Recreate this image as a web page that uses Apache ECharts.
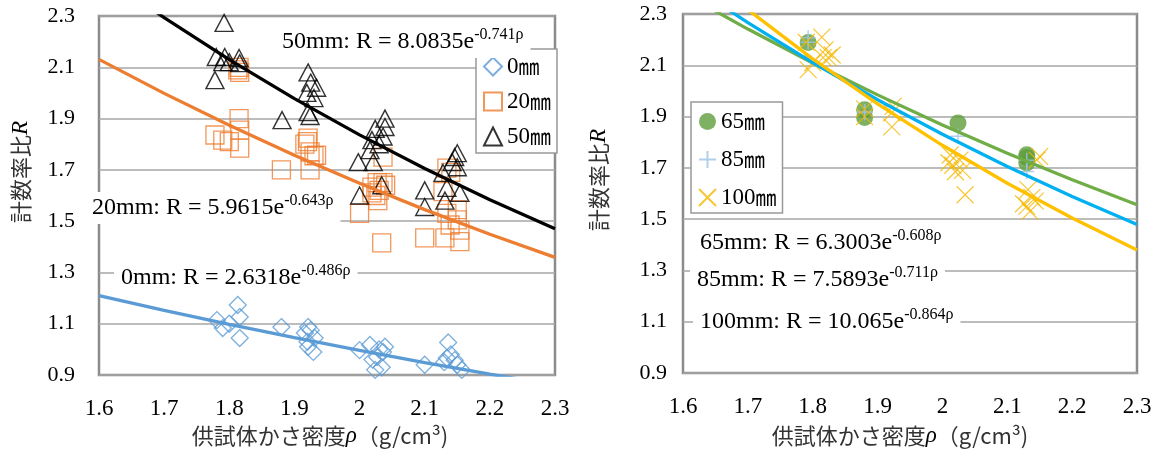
<!DOCTYPE html>
<html><head><meta charset="utf-8">
<script src="https://cdn.jsdelivr.net/npm/echarts@6/dist/echarts.min.js"></script>
<style>html,body{margin:0;padding:0;background:#fff}#c{width:1160px;height:450px}</style>
</head><body><div id="c"></div><script>
// ---- tick labels ----
const xTickLabels = ['1.6','1.7','1.8','1.9','2','2.1','2.2','2.3'];
const yTickLabels = ['0.9','1.1','1.3','1.5','1.7','1.9','2.1','2.3'];
// ---- left chart: measured points [density, ratio] ----
const pts0mm = [[1.781,1.114],[1.79,1.083],[1.813,1.173],[1.816,1.126],[1.816,1.044],[1.80,1.10],
  [1.88,1.087],[1.921,1.087],[1.916,1.064],[1.931,1.044],[1.921,1.01],[1.929,0.99],[1.925,1.075],[1.92,1.03],
  [2.0,0.997],[2.016,1.017],[2.039,1.01],[2.027,0.97],[2.034,0.93],[2.024,0.92],[2.036,0.99],[2.03,1.0],[2.02,0.96],
  [2.10,0.94],[2.136,1.027],[2.134,0.966],[2.146,0.958],[2.157,0.92],[2.15,0.94],[2.13,0.95],[2.14,0.98]];
const pts20mm = [[1.778,1.836],[1.79,1.816],[1.816,1.855],[1.816,1.785],[1.815,1.90],[1.813,2.09],[1.815,2.10],[1.816,2.08],[1.80,1.81],
  [1.88,1.70],[1.921,1.824],[1.916,1.80],[1.924,1.77],[1.934,1.757],[1.924,1.70],[1.93,1.755],[1.92,1.81],
  [2.036,1.75],[2.027,1.65],[2.036,1.65],[2.019,1.633],[2.028,1.58],[2.0,1.53],[2.034,1.415],[2.019,1.61],[2.03,1.62],[2.04,1.64],[2.025,1.60],
  [2.134,1.707],[2.128,1.615],[2.10,1.435],[2.131,1.435],[2.154,1.42],[2.15,1.545],[2.134,1.53],[2.139,1.485],[2.154,1.465],[2.15,1.505],[2.14,1.69]];
const pts50mm = [[1.792,2.273],[1.78,2.14],[1.793,2.14],[1.815,2.136],[1.816,2.116],[1.778,2.05],[1.80,2.12],[1.79,2.12],
  [1.881,1.894],[1.921,2.08],[1.934,2.02],[1.919,2.0],[1.93,1.98],[1.921,1.925],[1.924,1.91],[1.925,2.04],
  [2.024,1.86],[2.039,1.867],[2.019,1.816],[2.036,1.83],[2.016,1.777],[1.998,1.73],[2.021,1.73],[2.0,1.60],[2.034,1.64],[2.039,1.90],[2.03,1.80],
  [2.15,1.765],[2.142,1.73],[2.128,1.688],[2.15,1.71],[2.10,1.62],[2.10,1.555],[2.131,1.58],[2.134,1.63],[2.154,1.61],[2.146,1.75]];
// ---- right chart: measured points ----
const pts65mm = [[1.793,2.189],[1.88,1.927],[1.88,1.896],[2.024,1.875],[2.13,1.751],[2.13,1.719],[2.13,1.74]];
const pts85mm = [[1.793,2.207],[1.793,2.19],[1.88,1.915],[1.88,1.92],[2.024,1.823],[2.13,1.686],[2.13,1.73]];
const pts100mm = [[1.79,2.19],[1.814,2.21],[1.819,2.16],[1.816,2.13],[1.824,2.13],[1.793,2.083],[1.80,2.11],[1.83,2.14],
  [1.88,1.93],[1.922,1.915],[1.924,1.94],[1.922,1.86],[1.88,1.90],
  [2.012,1.75],[2.027,1.73],[2.016,1.71],[2.031,1.69],[2.02,1.685],[2.035,1.595],[2.01,1.72],
  [2.15,1.745],[2.146,1.73],[2.132,1.615],[2.138,1.585],[2.143,1.57],[2.13,1.55],[2.135,1.53],[2.125,1.56]];
// ---- trend lines ----
const trendX = [1.6,1.7,1.8,1.9,2.0,2.1,2.2,2.3];
const trend0mm  = [1.2093,1.1519,1.0973,1.0453,0.9957,0.9484,0.9034,0.8606];
const trend20mm = [2.1309,1.9982,1.8737,1.7570,1.6476,1.5450,1.4488,1.3585];
const trend50mm = [2.4700,2.2936,2.1298,1.9777,1.8364,1.7053,1.5835,1.4704];
const trend65mm = [2.3816,2.2412,2.1089,1.9846,1.8675,1.7573,1.6537,1.5561];
const trend85mm = [2.4331,2.2661,2.1106,1.9657,1.8308,1.7052,1.5881,1.4792];
const trend100mm= [2.5261,2.3170,2.1252,1.9494,1.7880,1.6400,1.5042,1.3797];

const SERIF = "'Liberation Serif','DejaVu Serif',serif";
const CJK = "'Noto Sans CJK JP','Noto Sans CJK SC',sans-serif";
const pair = (xs, ys) => xs.map((x, i) => [x, ys[i]]);
const fmtX = v => xTickLabels[Math.round((v - 1.6) / 0.1)] || '';
const fmtY = v => yTickLabels[Math.round((v - 0.9) / 0.2)] || '';

function xAx(gi) {
  return { type:'value', gridIndex:gi, min:1.6, max:2.3, interval:0.1,
    axisLine:{show:false}, axisTick:{show:false}, splitLine:{show:false},
    axisLabel:{formatter:fmtX, fontSize:23, color:'#000', fontFamily:SERIF, margin:22}};
}
function yAx(gi, m) {
  return { type:'value', gridIndex:gi, min:0.9, max:2.3, interval:0.2,
    axisLine:{show:false}, axisTick:{show:false},
    splitLine:{show:true, lineStyle:{color:'#a6a6a6', width:1.5}},
    axisLabel:{formatter:fmtY, fontSize:22, color:'#000', fontFamily:SERIF, margin:m}};
}
const hollow = c => ({color:'rgba(0,0,0,0)', borderColor:c, borderWidth:1.3});
const PLUS = 'path://M5,0L5,10M0,5L10,5';
const CROSS = 'path://M0,0L10,10M10,0L0,10';

function trend(name, gi, ys, color) {
  return { name, type:'line', xAxisIndex:gi, yAxisIndex:gi, data:pair(trendX, ys),
    showSymbol:false, symbol:'none', silent:true, clip:true, z:5,
    lineStyle:{color, width:3.3}};
}
function supText(left, cy, main, sup) {
  return { type:'text', left, top:cy-16, z:100,
    style:{ text:'{n|'+main+'}{s|'+sup+'}', backgroundColor:'#fff', padding:[1,7,1,7],
      rich:{ n:{fontSize:24, fontFamily:SERIF, fill:'#000', lineHeight:30},
             s:{fontSize:16, fontFamily:SERIF, fill:'#000', verticalAlign:'top', lineHeight:17} } } };
}
const legendText = {fontSize:23, fontFamily:SERIF, color:'#000', lineHeight:22,
  rich:{ d:{fontSize:23, fontFamily:SERIF, color:'#000'}, u:{fontSize:21, fontFamily:CJK, color:'#000'} }};
const legendFmt = name => '{d|' + name.replace('㎜','') + '}{u|㎜}';

const chart = echarts.init(document.getElementById('c'), null, {renderer:'canvas'});
chart.setOption({
  animation:false, backgroundColor:'#fff',
  grid:[
    {left:99, top:16, width:456, height:359, show:true, borderColor:'#8c8c8c', borderWidth:2.5, backgroundColor:'#fff'},
    {left:683, top:14, width:454, height:359, show:true, borderColor:'#8c8c8c', borderWidth:2.5, backgroundColor:'#fff'}
  ],
  xAxis:[xAx(0), xAx(1)],
  yAxis:[yAx(0, 24), yAx(1, 16)],
  legend:[
    { left:476, top:49, orient:'vertical', data:['0㎜','20㎜','50㎜'], backgroundColor:'#fff', formatter:legendFmt,
      borderColor:'#999', borderWidth:1.5, padding:[6,6,5,7], itemGap:12, itemWidth:18, itemHeight:18,
      textStyle:legendText, z:20 },
    { left:691, top:102, orient:'vertical', data:['65㎜','85㎜','100㎜'], backgroundColor:'#fff', formatter:legendFmt,
      borderColor:'#999', borderWidth:1.5, padding:[8,6,4,7], itemGap:15, itemWidth:17, itemHeight:17,
      textStyle:legendText, z:20 }
  ],
  series:[
    { name:'0㎜', type:'scatter', xAxisIndex:0, yAxisIndex:0, data:pts0mm, symbol:'diamond', symbolSize:[17,17], itemStyle:hollow('#5b9bd5'), z:2 },
    { name:'20㎜', type:'scatter', xAxisIndex:0, yAxisIndex:0, data:pts20mm, symbol:'rect', symbolSize:[18,18], itemStyle:hollow('#ed7d31'), z:2 },
    { name:'50㎜', type:'scatter', xAxisIndex:0, yAxisIndex:0, data:pts50mm, symbol:'triangle', symbolSize:[18,17], itemStyle:{color:'rgba(0,0,0,0)', borderColor:'#000', borderWidth:1.4}, z:2 },
    trend('t0', 0, trend0mm, '#5b9bd5'),
    trend('t20', 0, trend20mm, '#ed7d31'),
    trend('t50', 0, trend50mm, '#000'),
    { name:'65㎜', type:'scatter', xAxisIndex:1, yAxisIndex:1, data:pts65mm, symbol:'circle', symbolSize:17, itemStyle:{color:'#5f9e3b'}, z:2 },
    { name:'85㎜', type:'scatter', xAxisIndex:1, yAxisIndex:1, data:pts85mm, symbol:PLUS, symbolSize:15, itemStyle:{color:'rgba(0,0,0,0)', borderColor:'#9dc3e6', borderWidth:1.5}, z:3 },
    { name:'100㎜', type:'scatter', xAxisIndex:1, yAxisIndex:1, data:pts100mm, symbol:CROSS, symbolSize:17, itemStyle:{color:'rgba(0,0,0,0)', borderColor:'#f5b800', borderWidth:1.2}, z:3 },
    trend('t65', 1, trend65mm, '#70ad47'),
    trend('t85', 1, trend85mm, '#00b0f0'),
    trend('t100', 1, trend100mm, '#ffc000')
  ],
  graphic:[
    supText(275, 42, '50mm: R = 8.0835e', '-0.741ρ'),
    supText(85, 208, '20mm: R = 5.9615e', '-0.643ρ'),
    supText(114, 278, '0mm: R = 2.6318e', '-0.486ρ'),
    supText(693, 243, '65mm: R = 6.3003e', '-0.608ρ'),
    supText(690, 280, '85mm: R = 7.5893e', '-0.711ρ'),
    supText(693, 322, '100mm: R = 10.065e', '-0.864ρ'),
    { type:'text', x:21, y:172, rotation:Math.PI/2, z:100,
      style:{ text:'{c|計数率比}{i|R}', align:'center', verticalAlign:'middle',
        rich:{ c:{fontSize:22, fontFamily:CJK, fill:'#333'}, i:{fontSize:23, fontFamily:SERIF, fontStyle:'italic', fill:'#000'} } } },
    { type:'text', x:599, y:180, rotation:Math.PI/2, z:100,
      style:{ text:'{c|計数率比}{i|R}', align:'center', verticalAlign:'middle',
        rich:{ c:{fontSize:22, fontFamily:CJK, fill:'#333'}, i:{fontSize:23, fontFamily:SERIF, fontStyle:'italic', fill:'#000'} } } },
    { type:'text', x:320, y:436, z:100,
      style:{ text:'{c|供試体かさ密度}{i|ρ}{c|（g/cm³)}', align:'center', verticalAlign:'middle',
        rich:{ c:{fontSize:22, fontFamily:CJK, fill:'#333'}, i:{fontSize:23, fontFamily:SERIF, fontStyle:'italic', fill:'#000'} } } },
    { type:'text', x:900, y:436, z:100,
      style:{ text:'{c|供試体かさ密度}{i|ρ}{c|（g/cm³)}', align:'center', verticalAlign:'middle',
        rich:{ c:{fontSize:22, fontFamily:CJK, fill:'#333'}, i:{fontSize:23, fontFamily:SERIF, fontStyle:'italic', fill:'#000'} } } }
  ]
});
</script></body></html>
